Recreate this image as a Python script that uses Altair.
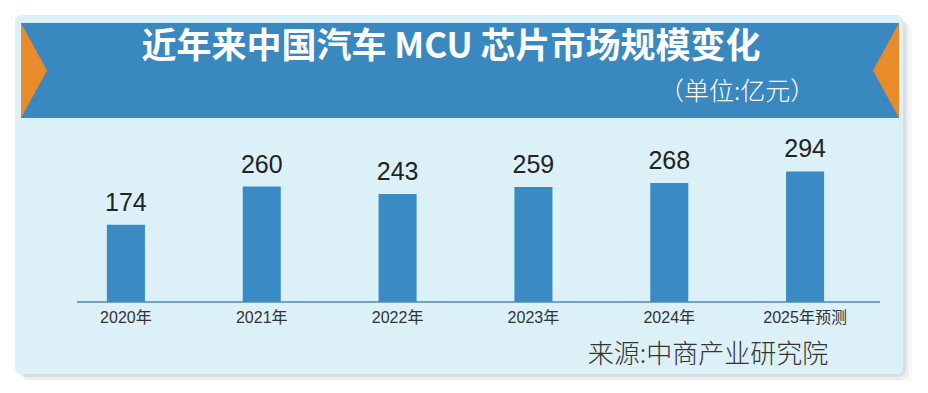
import altair as alt
import pandas as pd

# ---- data ----
years = ["2020年", "2021年", "2022年", "2023年", "2024年", "2025年预测"]
values = [174, 260, 243, 259, 268, 294]

title_text = "近年来中国汽车 MCU 芯片市场规模变化"
unit_text = "（单位:亿元）"
source_text = "来源:中商产业研究院"

df = pd.DataFrame({"year": years, "value": values})

W, H = 912, 372
PANEL = "#dcf0f8"
BLUE = "#3a88c0"
BAR = "#3a8bc3"
ORANGE = "#e98a2b"
CJK = "Noto Sans CJK SC"
NUM = "Liberation Sans, Noto Sans CJK SC"

one = alt.Data(values=[{}])

x_enc = alt.X("year:N", sort=years, axis=None,
              scale=alt.Scale(domain=years, range=[50, 865],
                              paddingInner=0.72, paddingOuter=0.36))
y_enc = alt.Y("value:Q", axis=None,
              scale=alt.Scale(domain=[0, 662], range=[294, 0], nice=False, zero=True))

# ---- decorations ----
shadows = [
    alt.Chart(one).mark_rect(color="#7d8a93", opacity=op, cornerRadius=8).encode(
        x=alt.value(7 + d), x2=alt.value(895 + d),
        y=alt.value(7 + d), y2=alt.value(366 + d))
    for d, op in [(9, 0.05), (6, 0.09), (3, 0.14)]
]
panel = alt.Chart(one).mark_rect(color=PANEL, cornerRadius=6).encode(
    x=alt.value(7), x2=alt.value(895), y=alt.value(7), y2=alt.value(366))
banner = alt.Chart(one).mark_rect(color=BLUE).encode(
    x=alt.value(13), x2=alt.value(891), y=alt.value(15), y2=alt.value(110))
tri_left = alt.Chart(one).mark_point(
    shape="M-0.274,-1L0.274,0L-0.274,1Z", filled=True, opacity=1,
    color=ORANGE, strokeWidth=0, size=9025).encode(
    x=alt.value(26), y=alt.value(62.5))
tri_right = alt.Chart(one).mark_point(
    shape="M0.274,-1L-0.274,0L0.274,1Z", filled=True, opacity=1,
    color=ORANGE, strokeWidth=0, size=9025).encode(
    x=alt.value(878), y=alt.value(62.5))

title = alt.Chart(one).mark_text(
    text=title_text, font=CJK, fontSize=35, fontWeight="bold", color="white",
    align="center", baseline="middle").encode(x=alt.value(443), y=alt.value(39))
unit = alt.Chart(one).mark_text(
    text=unit_text, font=CJK, fontSize=25, fontWeight=300, color="white",
    align="center", baseline="middle").encode(x=alt.value(729), y=alt.value(84))
source = alt.Chart(one).mark_text(
    text=source_text, font=CJK, fontSize=26, fontWeight=300, color="#333333",
    align="center", baseline="middle").encode(x=alt.value(700), y=alt.value(347))

axis_line = alt.Chart(one).mark_rule(color="#4f8ab5", strokeWidth=1.3).encode(
    x=alt.value(69), x2=alt.value(872), y=alt.value(294))

# ---- data marks ----
bars = alt.Chart(df).mark_bar(color=BAR).encode(x=x_enc, y=y_enc)
labels = alt.Chart(df).mark_text(
    font=NUM, fontSize=25, color="#222222", baseline="bottom", dy=-9).encode(
    x=x_enc, y=y_enc, text="value:Q")
xlabels = alt.Chart(df).mark_text(
    font=NUM, fontSize=16, color="#333333", baseline="middle").encode(
    x=x_enc, y=alt.value(310), text="year:N")

chart = alt.layer(
    *shadows, panel, banner, tri_left, tri_right, title, unit,
    bars, axis_line, labels, xlabels, source
).properties(
    width=W, height=H, padding=0, autosize=alt.AutoSizeParams(type="none"),
    background="white"
).configure_view(stroke=None)

chart.save("out.html", embed_options={"renderer": "svg", "actions": False})
